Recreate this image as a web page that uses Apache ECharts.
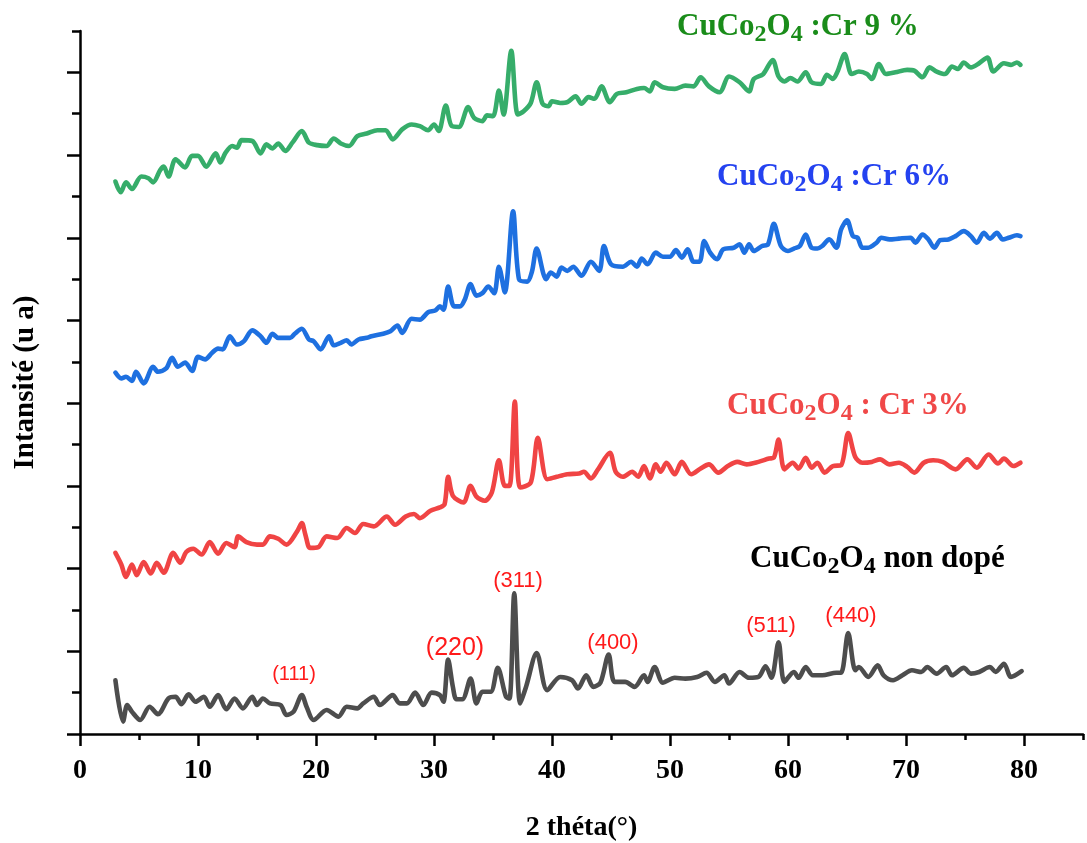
<!DOCTYPE html>
<html>
<head>
<meta charset="utf-8">
<script src="https://cdn.jsdelivr.net/npm/echarts@6/dist/echarts.min.js"></script>
<style>
html,body{margin:0;padding:0;background:#fff;}
#main{width:1087px;height:843px;}
</style>
</head>
<body>
<div id="main"></div>
<script>
// ---- data (2θ in degrees, intensity in arbitrary units, stacked offsets as drawn) ----
const undoped = [[3.0,0.65],[3.65,0.15],[4.0,0.35],[4.4,0.27],[5.1,0.17],[5.9,0.33],[6.6,0.24],[7.5,0.43],[8.1,0.45],[8.6,0.36],[9.2,0.48],[9.8,0.39],[10.5,0.45],[11.0,0.33],[11.7,0.47],[12.4,0.30],[13.1,0.43],[13.8,0.31],[14.6,0.45],[15.0,0.35],[15.5,0.43],[16.1,0.37],[17.0,0.35],[17.5,0.23],[18.1,0.27],[18.8,0.47],[19.2,0.33],[19.8,0.17],[20.9,0.29],[21.9,0.21],[22.6,0.33],[23.5,0.31],[24.0,0.37],[24.9,0.45],[25.4,0.35],[26.5,0.47],[27.1,0.37],[27.7,0.37],[28.4,0.50],[29.1,0.35],[29.8,0.50],[30.5,0.47],[30.8,0.39],[31.2,0.90],[31.6,0.57],[31.9,0.42],[32.4,0.42],[33.1,0.67],[33.6,0.37],[34.1,0.51],[34.8,0.51],[35.4,0.80],[36.1,0.45],[36.4,0.43],[36.8,1.70],[37.3,0.37],[37.8,0.57],[38.7,0.98],[39.6,0.53],[40.7,0.69],[41.7,0.65],[42.2,0.55],[42.9,0.71],[43.5,0.57],[44.1,0.62],[44.8,0.96],[45.3,0.63],[46.2,0.63],[47.0,0.57],[47.8,0.71],[48.1,0.63],[48.7,0.81],[49.4,0.62],[50.4,0.68],[51.3,0.67],[52.3,0.69],[53.1,0.74],[53.8,0.63],[54.6,0.71],[55.0,0.61],[55.9,0.75],[56.7,0.68],[57.5,0.69],[58.1,0.82],[58.6,0.68],[59.2,1.11],[59.7,0.63],[60.5,0.75],[60.9,0.68],[61.5,0.81],[62.1,0.71],[62.9,0.71],[64.1,0.74],[64.5,0.74],[65.1,1.22],[65.7,0.77],[66.0,0.81],[66.8,0.69],[67.6,0.83],[68.1,0.71],[68.9,0.65],[69.7,0.71],[70.5,0.77],[71.3,0.75],[71.8,0.81],[72.6,0.73],[73.4,0.81],[73.9,0.71],[74.9,0.80],[75.5,0.73],[76.2,0.75],[77.1,0.81],[77.6,0.75],[78.3,0.85],[78.9,0.69],[79.8,0.76]];

const cr3 = [[3.0,2.19],[3.5,2.05],[3.9,1.90],[4.4,2.05],[4.8,1.92],[5.4,2.08],[6.0,1.94],[6.5,2.07],[7.1,1.95],[7.9,2.19],[8.5,2.07],[9.0,2.20],[9.6,2.24],[10.3,2.17],[11.0,2.32],[11.7,2.18],[12.4,2.31],[13.1,2.26],[13.4,2.39],[14.1,2.32],[15.0,2.29],[15.5,2.29],[16.1,2.39],[16.8,2.36],[17.5,2.29],[18.4,2.45],[18.8,2.55],[19.1,2.41],[19.5,2.25],[20.2,2.26],[20.9,2.39],[21.8,2.37],[22.6,2.49],[23.3,2.43],[24.0,2.54],[24.9,2.51],[26.0,2.63],[26.7,2.53],[27.6,2.63],[28.3,2.66],[28.8,2.61],[29.7,2.70],[30.5,2.74],[30.9,2.78],[31.2,3.11],[31.6,2.88],[32.5,2.80],[33.1,3.00],[33.6,2.87],[34.3,2.82],[34.9,2.92],[35.5,3.31],[36.0,3.00],[36.4,3.00],[36.85,4.02],[37.3,2.98],[38.2,3.04],[38.8,3.58],[39.6,3.08],[40.4,3.11],[41.3,3.14],[42.3,3.15],[42.7,3.17],[43.3,3.09],[43.9,3.20],[44.9,3.40],[45.4,3.17],[46.0,3.11],[46.8,3.17],[47.3,3.11],[47.8,3.24],[48.3,3.09],[48.8,3.26],[49.2,3.17],[49.7,3.28],[50.4,3.14],[51.0,3.29],[51.8,3.14],[52.6,3.21],[53.3,3.26],[54.1,3.16],[54.9,3.24],[55.7,3.29],[56.5,3.26],[57.5,3.29],[58.4,3.33],[58.8,3.34],[59.2,3.56],[59.7,3.20],[60.4,3.28],[60.9,3.21],[61.5,3.34],[62.0,3.22],[62.5,3.28],[63.1,3.16],[63.8,3.24],[64.5,3.25],[65.1,3.64],[65.7,3.35],[66.3,3.28],[67.1,3.29],[67.8,3.32],[68.6,3.26],[69.4,3.28],[70.1,3.23],[70.7,3.16],[71.5,3.28],[72.3,3.31],[73.1,3.29],[74.2,3.20],[75.2,3.32],[76.0,3.22],[77.0,3.38],[77.8,3.27],[78.3,3.33],[79.1,3.24],[79.7,3.28]];

const cr6 = [[3.0,4.37],[3.5,4.30],[3.9,4.32],[4.4,4.27],[4.75,4.38],[5.4,4.24],[6.2,4.44],[6.6,4.38],[7.3,4.42],[7.8,4.55],[8.3,4.44],[8.9,4.49],[9.5,4.39],[10.0,4.56],[10.6,4.53],[11.2,4.61],[11.7,4.66],[12.1,4.65],[12.7,4.81],[13.3,4.71],[13.9,4.75],[14.6,4.88],[15.3,4.81],[15.8,4.73],[16.3,4.84],[16.8,4.79],[17.8,4.79],[18.2,4.84],[18.8,4.90],[19.4,4.77],[19.8,4.75],[20.4,4.65],[21.1,4.81],[21.5,4.70],[22.1,4.73],[22.6,4.76],[23.0,4.71],[23.6,4.77],[24.3,4.79],[24.7,4.81],[25.7,4.84],[26.3,4.87],[26.9,4.94],[27.3,4.85],[28.1,5.02],[28.8,5.01],[29.5,5.10],[30.1,5.12],[30.5,5.17],[30.8,5.13],[31.2,5.41],[31.7,5.17],[32.2,5.17],[32.6,5.25],[33.1,5.44],[33.6,5.30],[34.1,5.33],[34.6,5.41],[35.1,5.33],[35.5,5.65],[36.0,5.34],[36.7,6.32],[37.2,5.50],[37.9,5.47],[38.3,5.59],[38.7,5.87],[39.5,5.50],[39.9,5.58],[40.4,5.53],[40.8,5.64],[41.3,5.60],[41.8,5.65],[42.5,5.54],[43.3,5.71],[44.0,5.60],[44.4,5.90],[45.0,5.68],[46.0,5.65],[46.7,5.71],[47.2,5.65],[47.6,5.75],[48.1,5.68],[48.8,5.82],[49.4,5.77],[50.0,5.77],[50.5,5.85],[51.0,5.76],[51.5,5.86],[52.0,5.71],[52.5,5.71],[52.9,5.96],[53.4,5.82],[54.0,5.74],[54.5,5.86],[55.4,5.88],[55.9,5.92],[56.3,5.82],[56.7,5.92],[57.1,5.84],[57.8,5.90],[58.3,5.92],[58.8,6.17],[59.4,5.90],[60.0,5.84],[60.5,5.87],[61.0,5.90],[61.5,6.04],[62.0,5.88],[62.5,5.87],[62.9,5.90],[63.5,5.98],[64.1,5.88],[64.5,6.10],[65.0,6.21],[65.5,6.02],[65.9,6.00],[66.3,5.88],[66.8,5.88],[67.5,5.94],[67.9,6.00],[68.6,5.98],[69.4,5.99],[70.4,6.00],[70.8,5.94],[71.4,6.04],[71.9,5.98],[72.4,5.88],[72.9,5.97],[73.6,5.98],[74.2,6.02],[74.9,6.08],[75.5,6.02],[76.0,5.94],[76.6,6.06],[77.1,5.99],[77.7,6.06],[78.2,5.98],[78.7,6.00],[79.4,6.03],[79.7,6.02]];

const cr9 = [[3.0,6.68],[3.45,6.55],[3.9,6.67],[4.4,6.59],[5.2,6.74],[5.8,6.72],[6.2,6.67],[6.8,6.82],[7.1,6.86],[7.5,6.74],[8.1,6.95],[8.9,6.85],[9.5,6.99],[10.0,6.99],[10.7,6.86],[11.5,7.02],[11.9,6.91],[12.3,7.02],[12.9,7.11],[13.3,7.09],[13.7,7.18],[14.6,7.17],[15.3,7.02],[15.8,7.13],[16.3,7.08],[16.8,7.14],[17.4,7.05],[18.0,7.15],[18.8,7.29],[19.4,7.15],[20.1,7.12],[20.9,7.11],[21.5,7.20],[22.1,7.14],[22.8,7.11],[23.5,7.23],[24.3,7.26],[25.2,7.30],[25.9,7.30],[26.5,7.19],[27.3,7.31],[28.1,7.37],[28.8,7.35],[29.5,7.30],[30.0,7.37],[30.4,7.29],[31.0,7.60],[31.5,7.35],[32.1,7.34],[32.9,7.58],[33.4,7.45],[34.1,7.41],[34.5,7.48],[35.0,7.47],[35.5,7.78],[35.9,7.49],[36.55,8.26],[37.1,7.49],[37.6,7.53],[38.2,7.63],[38.7,7.88],[39.2,7.62],[39.7,7.59],[40.0,7.65],[40.7,7.63],[41.3,7.64],[42.0,7.71],[42.5,7.62],[43.1,7.70],[43.6,7.68],[44.2,7.83],[44.9,7.64],[45.5,7.74],[46.3,7.76],[47.2,7.80],[47.8,7.81],[48.3,7.77],[48.7,7.88],[49.4,7.82],[50.4,7.80],[51.3,7.84],[52.0,7.83],[52.6,7.94],[53.3,7.83],[54.2,7.76],[55.0,7.95],[55.9,7.88],[56.7,7.77],[57.1,7.92],[57.9,7.98],[58.7,8.15],[59.2,7.95],[59.7,7.89],[60.2,7.93],[60.8,7.89],[61.5,8.00],[62.0,7.88],[62.8,7.86],[63.3,7.97],[63.8,7.92],[64.2,8.01],[64.8,8.22],[65.4,7.98],[66.0,8.01],[66.7,7.98],[67.1,7.92],[67.7,8.10],[68.3,7.98],[69.1,8.00],[70.1,8.03],[70.7,8.02],[71.4,7.94],[72.0,8.06],[72.6,8.01],[73.3,7.98],[73.9,8.07],[74.4,8.04],[74.9,8.12],[75.5,8.06],[76.2,8.11],[76.9,8.18],[77.4,8.01],[78.3,8.11],[78.9,8.09],[79.4,8.12],[79.7,8.09]];

const xMajorTicks = [0,10,20,30,40,50,60,70,80];
const xMinorTicks = [5,15,25,35,45,55,65,75,85];
const yMajorTicks = [0,1,2,3,4,5,6,7,8];
const yMinorTicks = [0.5,1.5,2.5,3.5,4.5,5.5,6.5,7.5,8.5];

const seriesNames = ['CuCo2O4 non dopé','CuCo2O4 : Cr 3%','CuCo2O4 :Cr 6%','CuCo2O4 :Cr 9 %'];
const seriesColors = ['#4d4d4d','#f04444','#1e70e0','#36ad6a'];
const hklLabels = ['(111)','(220)','(311)','(400)','(511)','(440)'];

const SERIF = '"Liberation Serif","Times New Roman",serif';
const SANS = '"Liberation Sans",Arial,sans-serif';

const chart = echarts.init(document.getElementById('main'), null, {renderer:'canvas'});

function richLabel(parts, color){
  return {
    text: '{a|' + parts[0] + '}{s|2}{a|O}{s|4}{a|' + parts[1] + '}',
    rich: {
      a: {fontFamily: SERIF, fontWeight:'bold', fontSize:31, lineHeight:36, verticalAlign:'top', fill:color},
      s: {fontFamily: SERIF, fontWeight:'bold', fontSize:24, lineHeight:12, verticalAlign:'bottom', fill:color}
    },
    align:'left', verticalAlign:'top'
  };
}

const axisLineStyle = {color:'#000', width:2.5};

const option = {
  animation:false,
  backgroundColor:'#fff',
  grid:{left:80, right:4, top:31, bottom:109, containLabel:false, outerBoundsMode:'none'},
  xAxis:[{
    type:'value', min:0, max:85, interval:10,
    axisLine:{show:true, onZero:false, lineStyle:axisLineStyle},
    axisTick:{show:true, inside:false, length:12, lineStyle:{color:'#000', width:2.5}, customValues:xMajorTicks},
    axisLabel:{show:true, customValues:xMajorTicks, margin:23, color:'#000', fontFamily:SERIF, fontWeight:'bold', fontSize:28},
    splitLine:{show:false},
    name:'2 théta(°)', nameLocation:'middle', nameGap:80,
    nameTextStyle:{color:'#000', fontFamily:SERIF, fontWeight:'bold', fontSize:28}
  },{
    type:'value', min:0, max:85, position:'bottom',
    axisLine:{show:false},
    axisTick:{show:true, inside:false, length:6, lineStyle:{color:'#000', width:2.5}, customValues:xMinorTicks},
    axisLabel:{show:false}, splitLine:{show:false}
  }],
  yAxis:[{
    type:'value', min:0, max:8.5, interval:1,
    axisLine:{show:true, onZero:false, lineStyle:axisLineStyle},
    axisTick:{show:true, inside:false, length:13, lineStyle:{color:'#000', width:2.5}, customValues:yMajorTicks},
    axisLabel:{show:false}, splitLine:{show:false},
    name:'Intansité (u a)', nameLocation:'middle', nameGap:40, nameRotate:90,
    nameTextStyle:{color:'#000', fontFamily:SERIF, fontWeight:'bold', fontSize:29}
  },{
    type:'value', min:0, max:8.5, position:'left',
    axisLine:{show:false},
    axisTick:{show:true, inside:false, length:8, lineStyle:{color:'#000', width:2.5}, customValues:yMinorTicks},
    axisLabel:{show:false}, splitLine:{show:false}
  }],
  series:[undoped, cr3, cr6, cr9].map((d,i)=>({
    name: seriesNames[i], type:'line', data:d, xAxisIndex:0, yAxisIndex:0,
    showSymbol:false, smooth:0.3, lineStyle:{color:seriesColors[i], width:4.6, join:'round', cap:'round'}, itemStyle:{color:seriesColors[i]},
    z: 2+i
  })),
  graphic:[
    {type:'text', x:677, y:11, style: richLabel(['CuCo',' :Cr 9 %'], '#1a8c1a'), z:10},
    {type:'text', x:717, y:161, style: richLabel(['CuCo',' :Cr 6%'], '#2442f0'), z:10},
    {type:'text', x:727, y:390, style: richLabel(['CuCo',' : Cr 3%'], '#f04848'), z:10},
    {type:'text', x:750, y:543, style: richLabel(['CuCo',' non dopé'], '#000000'), z:10},
    {type:'text', x:294, y:674, style:{text:hklLabels[0], fill:'#ff1a1a', font:'20px '+SANS, align:'center', verticalAlign:'middle'}, z:10},
    {type:'text', x:455, y:648, style:{text:hklLabels[1], fill:'#ff1a1a', font:'25px '+SANS, align:'center', verticalAlign:'middle'}, z:10},
    {type:'text', x:518, y:581, style:{text:hklLabels[2], fill:'#ff1a1a', font:'22px '+SANS, align:'center', verticalAlign:'middle'}, z:10},
    {type:'text', x:613, y:643, style:{text:hklLabels[3], fill:'#ff1a1a', font:'22px '+SANS, align:'center', verticalAlign:'middle'}, z:10},
    {type:'text', x:771, y:626, style:{text:hklLabels[4], fill:'#ff1a1a', font:'22px '+SANS, align:'center', verticalAlign:'middle'}, z:10},
    {type:'text', x:851, y:616, style:{text:hklLabels[5], fill:'#ff1a1a', font:'22px '+SANS, align:'center', verticalAlign:'middle'}, z:10}
  ]
};
chart.setOption(option);
</script>
</body>
</html>
